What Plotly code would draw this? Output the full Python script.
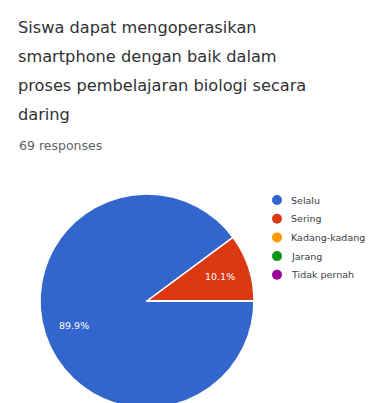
import math
import plotly.graph_objects as go

# Survey question and answer counts
title_lines = [
    "Siswa dapat mengoperasikan",
    "smartphone dengan baik dalam",
    "proses pembelajaran biologi secara",
    "daring",
]
subtitle = "69 responses"
labels = ["Selalu", "Sering", "Kadang-kadang", "Jarang", "Tidak pernah"]
counts = [62, 7, 0, 0, 0]
colors = ["#3366cc", "#dc3912", "#ff9900", "#109618", "#990099"]

W, H = 374, 416
FONT = "DejaVu Sans"

fig = go.Figure()

cx, cy, r = 147, 301, 107
fig.add_trace(go.Pie(
    labels=labels,
    values=counts,
    sort=False,
    direction="clockwise",
    rotation=90,
    marker=dict(colors=colors, line=dict(color="white", width=1.5)),
    textinfo="none",
    showlegend=False,
    hoverinfo="label+value+percent",
    domain=dict(x=[(cx - r) / W, (cx + r) / W],
                y=[(H - cy - r) / H, (H - cy + r) / H]),
))

annotations = []
for i, line in enumerate(title_lines):
    annotations.append(dict(
        text=line, x=16, y=28 + 28.7 * i,
        showarrow=False, xanchor="left", yanchor="middle",
        font=dict(size=16.2, color="#303134", family=FONT),
    ))
annotations.append(dict(
    text=subtitle, x=17, y=145, showarrow=False, xanchor="left",
    yanchor="middle", font=dict(size=12.5, color="#5f6368", family=FONT),
))

# Percentage labels placed along each slice's middle angle
total = sum(counts)
cum = 0
for n in counts:
    if n > 0:
        theta = math.radians(360 * (cum + n / 2) / total)
        annotations.append(dict(
            text=f"{100 * n / total:.1f}%",
            x=cx + 0.72 * r * math.cos(theta),
            y=cy + 0.72 * r * math.sin(theta),
            showarrow=False, xanchor="center", yanchor="middle",
            font=dict(size=9.5, color="white", family=FONT),
        ))
    cum += n

# Legend drawn as coloured dots with labels
shapes = []
for i, (lab, col) in enumerate(zip(labels, colors)):
    ly = 200 + 18.7 * i
    shapes.append(dict(type="circle", x0=272, x1=282, y0=ly - 5, y1=ly + 5,
                       fillcolor=col, line=dict(width=0)))
    annotations.append(dict(
        text=lab, x=289, y=ly, showarrow=False, xanchor="left",
        yanchor="middle", font=dict(size=9.5, color="#3c4043", family=FONT),
    ))

# convert pixel positions (from the top-left) to paper coordinates
for a in annotations:
    a["x"] = a["x"] / W
    a["y"] = 1 - a["y"] / H
    a["xref"] = "paper"
    a["yref"] = "paper"
for s in shapes:
    s.update(xref="paper", yref="paper",
             x0=s["x0"] / W, x1=s["x1"] / W,
             y0=1 - s["y1"] / H, y1=1 - s["y0"] / H)

fig.update_layout(
    width=W, height=H,
    margin=dict(l=0, r=0, t=0, b=0),
    paper_bgcolor="white", plot_bgcolor="white",
    annotations=annotations, shapes=shapes,
    font=dict(family=FONT),
)

fig.write_html("out.html", post_script="document.body.style.margin='0';document.body.style.overflow='hidden';")
